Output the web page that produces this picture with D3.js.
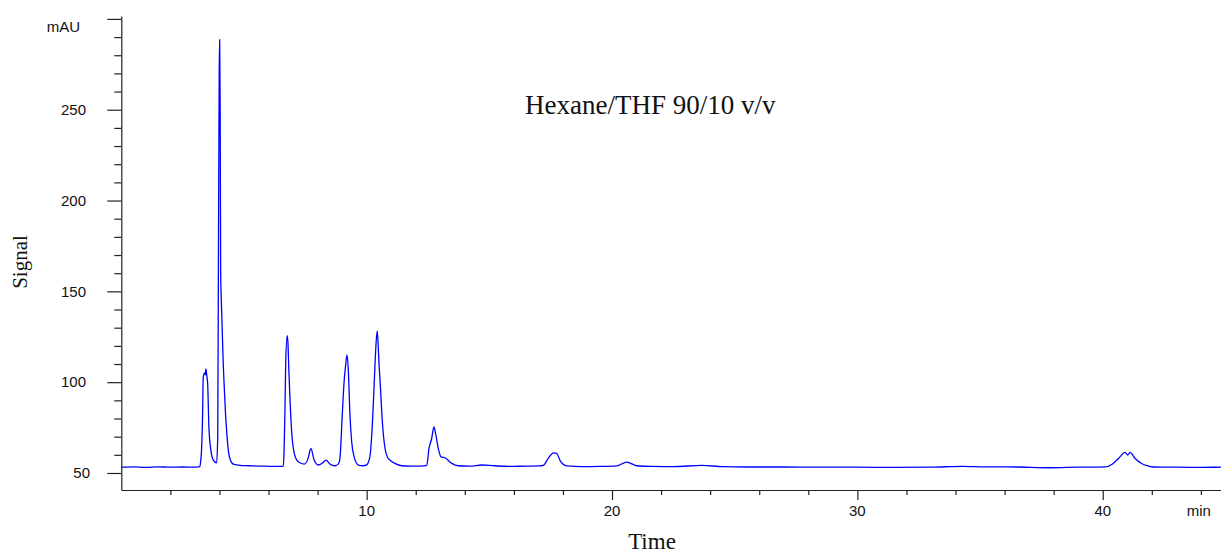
<!DOCTYPE html>
<html>
<head>
<meta charset="utf-8">
<script src="https://cdn.jsdelivr.net/npm/d3@7/dist/d3.min.js"></script>
<style>
  html, body { margin: 0; padding: 0; background: #fff; }
  svg { display: block; }
</style>
</head>
<body>
<svg id="chart" width="1221" height="555"></svg>
<script>
// ---- data ----
const times = [0.0,0.5,1.0,1.5,2.0,2.5,3.0,3.15,3.20,3.24,3.27,3.31,3.34,3.39,3.42,3.45,3.48,3.52,3.57,3.65,3.75,3.885,3.93,3.96,3.99,4.01,4.03,4.05,4.07,4.10,4.15,4.19,4.25,4.30,4.36,4.45,4.51,4.6,4.83,5.2,5.6,6.0,6.4,6.60,6.63,6.67,6.70,6.76,6.79,6.83,6.94,7.05,7.21,7.46,7.60,7.73,7.86,8.03,8.20,8.34,8.50,8.71,8.85,8.91,9.005,9.07,9.14,9.20,9.25,9.32,9.39,9.49,9.66,9.86,10.0,10.13,10.23,10.31,10.37,10.43,10.47,10.50,10.55,10.64,10.75,10.88,11.15,11.43,11.8,12.2,12.45,12.54,12.65,12.74,12.81,12.92,13.03,13.19,13.47,13.73,14.2,14.7,15.2,15.8,16.5,17.0,17.20,17.40,17.61,17.74,17.91,18.15,18.8,19.5,20.19,20.6,21.0,21.6,22.5,23.66,24.5,25.5,27,28.5,30,31.5,33,34.3,35.2,36.5,37.8,39,40.1,40.40,40.64,40.91,41.02,41.11,41.32,41.55,41.80,42.07,43,44,44.82];
const signal = [53.2,53.4,53.1,53.4,53.2,53.3,53.2,53.4,53.5,57,62.6,80,102.7,105,104,107.3,104,99.1,75.4,62.6,57.1,55.6,70,172,270,288.6,250,160,148,135,112,99,82,72,62.6,57,55.5,54.7,54.2,54.0,53.8,53.7,53.6,53.7,60,84,110,125.6,122,106.4,73.5,60.8,56.2,54.9,57.5,63.5,57.1,54.4,55.5,57.1,55.0,54.0,55,58,81.8,98.2,109,115,107.3,81.8,67.1,58.9,54.4,54.0,54.5,58.9,76.3,100,118.3,128.3,120,111,100,78.1,63.5,58,55.3,54.0,53.8,53.8,54.2,63.5,69,75.4,71.7,63.5,58.9,58.4,55.3,54,53.8,54.4,54.0,53.6,53.8,53.9,54.2,58,61.1,60.8,56.2,53.9,53.5,53.6,53.9,56,54,53.6,53.5,54.2,53.5,53.3,53.3,53.2,53.2,53.1,53.2,53.7,53.4,53.3,52.9,53.2,53.4,55,58,61.3,59.9,61.3,58,55.5,54,53.3,53.2,53.1,53.2];

const yMajorTicks = [50,100,150,200,250,300];
const yMinorTicks = [60,70,80,90,110,120,130,140,160,170,180,190,210,220,230,240,260,270,280,290];
const yTickLabels = ["50","100","150","200","250","mAU"];
const xMajorTicks = [10,20,30,40];
const xMinorTicks = [2,4,6,8,12,14,16,18,22,24,26,28,32,34,36,38,42,44];
const xTickLabels = ["10","20","30","40"];
const xUnitTick = 44, xUnitLabel = "min";
const title = "Hexane/THF 90/10 v/v";
const xTitle = "Time", yTitle = "Signal";

// ---- layout ----
const svg = d3.select("#chart");
const x = d3.scaleLinear().domain([0, 44.82]).range([121.3, 1221]);
const y = d3.scaleLinear().domain([40.64, 301.6]).range([490, 16]);
const axisColor = "#222";

// y axis
const gy = svg.append("g").attr("transform", `translate(${x(0)},0)`);
gy.call(d3.axisLeft(y).tickValues(yMinorTicks).tickSize(7).tickFormat(""));
gy.call(g => g.select(".domain").remove());
const gy2 = svg.append("g").attr("transform", `translate(${x(0)},0)`);
gy2.call(d3.axisLeft(y).tickValues(yMajorTicks).tickSize(14).tickSizeOuter(0).tickFormat(""));

svg.append("g").selectAll("text").data(yMajorTicks).join("text")
  .attr("x", (d) => d === 300 ? 80 : (d === 50 ? 90 : 86))
  .attr("y", d => d === 300 ? y(d) + 8 : y(d))
  .attr("dy", "0.35em")
  .attr("text-anchor", "end")
  .attr("font-family", "Liberation Sans, Arial, sans-serif")
  .attr("font-size", 15)
  .attr("fill", "#111")
  .text((d, i) => yTickLabels[i]);

// x axis
const gx = svg.append("g").attr("transform", `translate(0,${y.range()[0]})`);
gx.call(d3.axisBottom(x).tickValues(xMinorTicks).tickSize(5).tickFormat(""));
gx.call(g => g.select(".domain").remove());
const gx2 = svg.append("g").attr("transform", `translate(0,${y.range()[0]})`);
gx2.call(d3.axisBottom(x).tickValues(xMajorTicks).tickSize(10).tickSizeOuter(0).tickFormat(""));
svg.selectAll("g .tick line, g .domain").attr("stroke", axisColor).attr("stroke-width", 1.2);

svg.append("g").selectAll("text").data(xMajorTicks).join("text")
  .attr("x", d => x(d))
  .attr("y", 516)
  .attr("text-anchor", "middle")
  .attr("font-family", "Liberation Sans, Arial, sans-serif")
  .attr("font-size", 15)
  .attr("fill", "#111")
  .text((d, i) => xTickLabels[i]);
svg.append("text")
  .attr("x", x(xUnitTick) - 2).attr("y", 516)
  .attr("text-anchor", "middle")
  .attr("font-family", "Liberation Sans, Arial, sans-serif")
  .attr("font-size", 15).attr("fill", "#111")
  .text(xUnitLabel);

// titles
svg.append("text")
  .attr("x", 652).attr("y", 549)
  .attr("text-anchor", "middle")
  .attr("font-family", "Liberation Serif, Times New Roman, serif")
  .attr("font-size", 23).attr("fill", "#111")
  .text(xTitle);
svg.append("text")
  .attr("transform", "translate(27,262) rotate(-90)")
  .attr("text-anchor", "middle")
  .attr("font-family", "Liberation Serif, Times New Roman, serif")
  .attr("font-size", 21).attr("fill", "#111")
  .text(yTitle);
svg.append("text")
  .attr("x", 525).attr("y", 114)
  .attr("font-family", "Liberation Serif, Times New Roman, serif")
  .attr("font-size", 27).attr("fill", "#111")
  .text(title);

// trace
const pts = times.map((t, i) => [t, signal[i]]);
const line = d3.line().x(d => x(d[0])).y(d => y(d[1])).curve(d3.curveMonotoneX);
svg.append("path")
  .datum(pts)
  .attr("d", line)
  .attr("fill", "none")
  .attr("stroke", "#0000ff")
  .attr("stroke-width", 1.3)
  .attr("stroke-linejoin", "round");
</script>
</body>
</html>
